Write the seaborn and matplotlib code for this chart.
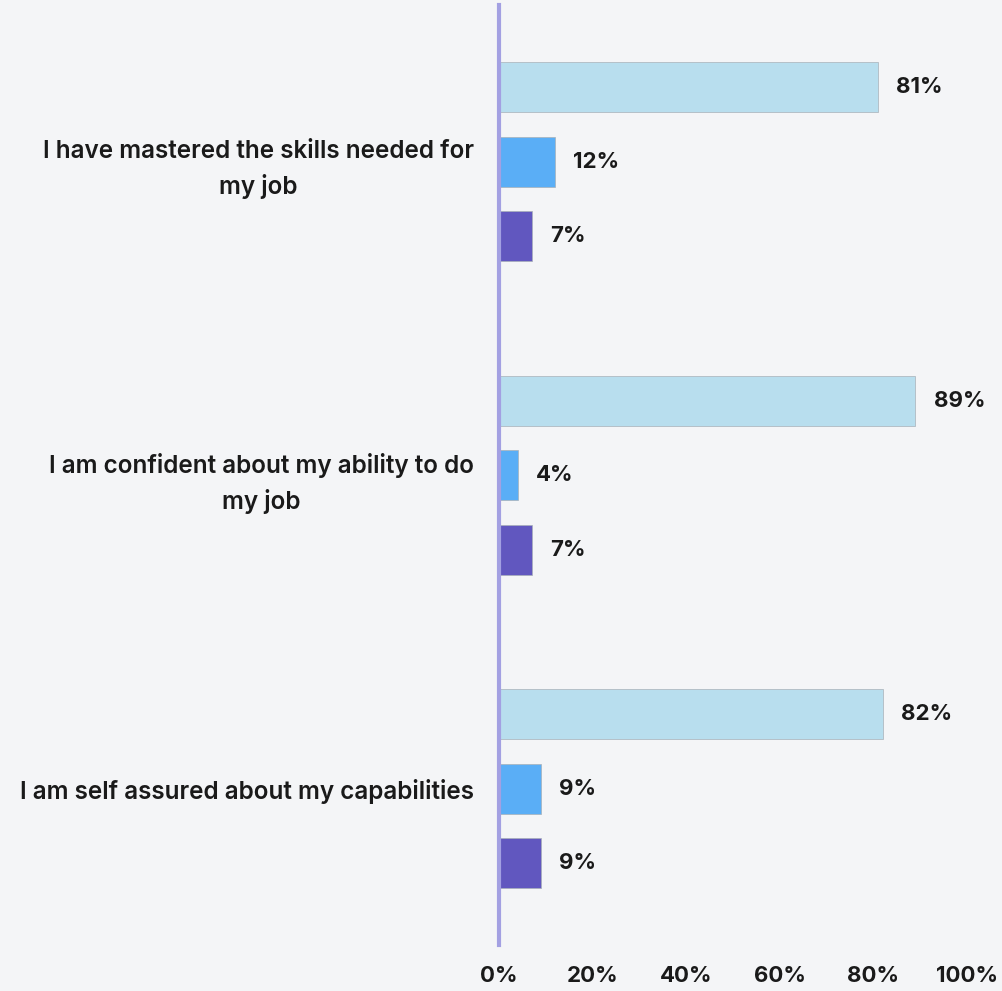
import matplotlib
matplotlib.use("Agg")
import matplotlib.pyplot as plt
import seaborn as sns
import pandas as pd

# Survey statements and response shares (%)
statements = [
    "I have mastered the skills needed for\nmy job",
    "I am confident about my ability to do\nmy job",
    "I am self assured about my capabilities",
]
responses = ["Agree", "Neutral", "Disagree"]
agree = [81, 89, 82]
neutral = [12, 4, 9]
disagree = [7, 7, 9]
x_ticks = [0, 20, 40, 60, 80, 100]
x_tick_labels = ["0%", "20%", "40%", "60%", "80%", "100%"]

palette = ["#b8deee", "#5aaef6", "#6157bf"]
bg = "#f4f5f7"

rows = []
for s, a, n, d in zip(statements, agree, neutral, disagree):
    for r, v in zip(responses, (a, n, d)):
        rows.append({"statement": s, "response": r, "value": v})
df = pd.DataFrame(rows)

sns.set_theme(style="white")
plt.rcParams["font.family"] = ["Inter", "DejaVu Sans"]

fig = plt.figure(figsize=(10.02, 9.91), dpi=100, facecolor=bg)
ax = fig.add_axes([0.498, 0.046, 0.467, 0.949])
ax.set_facecolor(bg)

sns.barplot(
    data=df, y="statement", x="value", hue="response", order=statements,
    hue_order=responses, palette=palette, saturation=1, orient="h",
    width=0.714, gap=0.33, edgecolor="#a8b0b8", linewidth=0.5,
    legend=False, ax=ax,
)

for cont in ax.containers:
    ax.bar_label(cont, labels=[f"{v:.0f}%" for v in cont.datavalues],
                 padding=13, fontsize=16, fontweight="bold", color="#1a1a1a")

ax.set_xlim(0, 100)
ax.set_ylim(2.5, -0.5)
ax.set_xticks(x_ticks)
ax.set_xticklabels(x_tick_labels, fontsize=16, fontweight="bold", color="#1a1a1a")
ax.tick_params(axis="x", length=0, pad=15)
ax.tick_params(axis="y", length=0, pad=18)
for lab in ax.get_yticklabels():
    lab.set_fontsize(17.5)
    lab.set_fontweight("semibold")
    lab.set_color("#1a1a1a")
    lab.set_multialignment("center")
    lab.set_linespacing(1.55)
ax.set_xlabel("")
ax.set_ylabel("")

for side in ("top", "right", "bottom"):
    ax.spines[side].set_visible(False)
ax.spines["left"].set_color("#a3a0e2")
ax.spines["left"].set_linewidth(3)

fig.savefig("out.png", dpi=100, facecolor=bg)
